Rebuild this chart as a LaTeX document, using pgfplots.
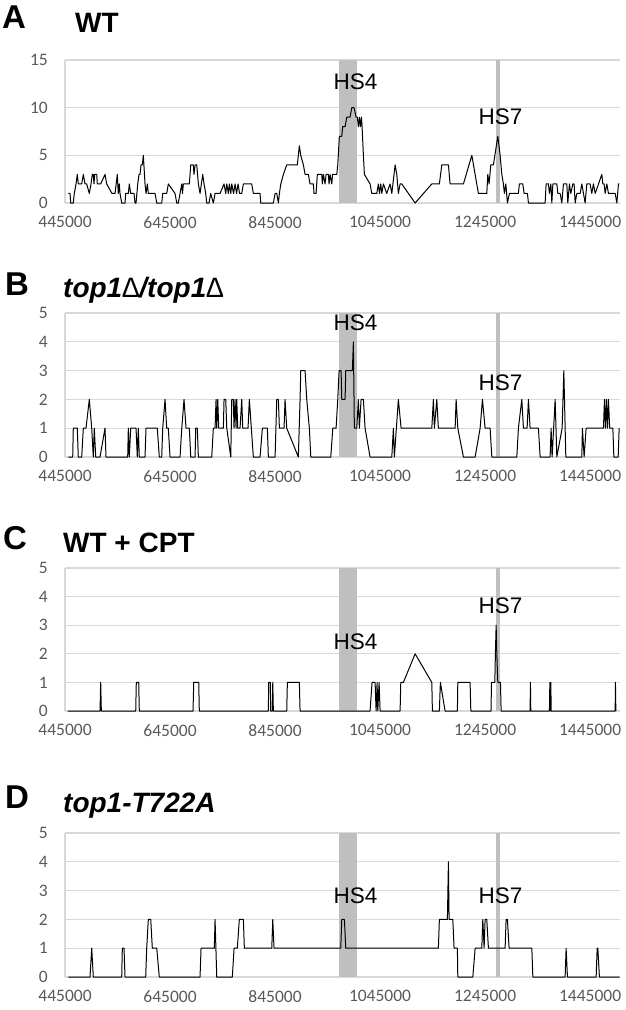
\documentclass[border=0pt]{standalone}
\usepackage{fontspec}
\setmainfont{Liberation Sans}
\newfontfamily\carlito{Carlito}
\usepackage{pgfplots}
\pgfplotsset{compat=1.18}

\definecolor{gridc}{RGB}{217,217,217}
\definecolor{tickc}{RGB}{89,89,89}
\definecolor{bandc}{RGB}{191,191,191}

\newcommand{\tl}[1]{{\carlito\fontsize{17.5}{20}\selectfont\color{tickc}#1}}

\pgfplotsset{
  panel/.style={
    scale only axis, width=555pt,
    xmin=445000, xmax=1502000, ymin=0,
    axis x line*=bottom, axis y line*=left,
    axis line style={draw=gridc, line width=1.3pt, -},
    ymajorgrids, grid style={draw=gridc, line width=1.3pt},
    major tick length=0pt, tick style={draw=none},
    scaled x ticks=false, scaled y ticks=false,
    xtick={445000,645000,845000,1045000,1245000,1445000},
    xticklabels={\tl{445000},\tl{645000},\tl{845000},\tl{1045000},\tl{1245000},\tl{1445000}},
    tick label style={inner sep=0pt},
    yticklabel style={anchor=east, xshift=-17pt},
    xticklabel style={anchor=north, yshift=-13pt},
  },
  dataline/.style={black, line width=1pt, line join=round, mark=none},
}
\tikzset{hs/.style={font=\fontsize{22.5}{24}\selectfont, inner sep=0pt}}

\newcommand{\ttl}{\fontsize{28}{31}\selectfont\bfseries}
\newcommand{\lett}{\fontsize{33}{35}\selectfont\bfseries}

\begin{document}
\begin{tikzpicture}[x=1pt,y=1pt]
\path[use as bounding box] (0,0) rectangle (625,-1010);

% titles
\node[anchor=base west, inner sep=0pt, font=\lett] at (2,-28) {A};
\node[anchor=base west, inner sep=0pt, font=\ttl] at (75,-32) {WT};
\node[anchor=base west, inner sep=0pt, font=\lett] at (5,-295) {B};
\node[anchor=base west, inner sep=0pt, font=\ttl] at (63,-297) {\itshape top1{\mdseries ∆}/top1{\mdseries ∆}};
\node[anchor=base west, inner sep=0pt, font=\lett] at (3,-549) {C};
\node[anchor=base west, inner sep=0pt, font=\ttl] at (63,-552) {WT + CPT};
\node[anchor=base west, inner sep=0pt, font=\lett] at (5,-808) {D};
\node[anchor=base west, inner sep=0pt, font=\ttl] at (63,-812) {\itshape top1-T722A};

% ---------------- A ----------------
\begin{axis}[panel, at={(65pt,-203pt)}, anchor=south west, height=143pt,
  ymax=15, ytick={0,5,10,15}, yticklabels={\tl{0},\tl{5},\tl{10},\tl{15}}]
\fill[bandc] (axis cs:967000,0) rectangle (axis cs:1001300,15);
\fill[bandc] (axis cs:1266000,0) rectangle (axis cs:1273700,15);
\addplot[dataline] coordinates {
(451300,1)(454500,1)(455900,0)(460800,0)(462700,1)(466000,2)(468400,3)(470300,2)(476800,2)(479900,3)(483100,2)(486300,2)(491300,1)(494500,2)(497000,3)(498900,3)(500200,2)(501600,3)(505400,3)(506500,2)(513000,2)(521200,3)(524400,2)(534500,1)(540300,1)(544600,3)(546500,1)(548400,2)(549800,1)(553000,0)(559300,0)(560600,1)(565600,1)(567500,2)(570100,1)(576400,1)(578400,0)(580300,0)(583500,2)(586000,3)(587900,3)(589800,4)(592300,4)(594200,5)(597400,2)(599300,1)(601800,2)(603700,1)(616500,1)(619700,0)(629200,0)(631100,1)(638700,1)(641800,2)(654600,1)(657800,0)(660800,0)(664100,1)(667400,2)(668800,1)(670400,2)(681800,2)(684500,4)(689400,4)(690700,3)(692700,4)(695900,4)(699000,2)(702200,1)(707300,3)(709800,2)(713000,1)(714900,0)(719300,0)(722500,1)(727500,0)(730800,1)(740300,1)(747900,2)(751100,1)(753100,2)(756100,1)(758000,2)(760700,1)(762600,2)(766000,1)(768900,2)(771700,1)(774600,2)(777400,1)(781600,1)(784700,2)(800600,2)(803700,1)(816500,1)(817800,0)(841800,0)(845100,1)(848300,1)(851400,0)(853300,1)(856000,2)(860900,3)(867300,4)(887500,4)(891300,6)(894000,5)(899000,4)(902200,3)(908500,3)(911700,2)(918000,2)(919300,1)(923200,1)(925600,3)(934000,3)(935200,2)(937100,3)(940300,2)(942200,3)(946600,3)(947900,2)(949800,3)(953100,2)(954600,3)(962600,3)(964500,4)(967500,7)(972000,7)(973900,8)(978400,8)(981600,9)(987900,9)(991200,10)(995500,10)(999400,9)(1001800,9)(1003800,8)(1005700,9)(1007600,8)(1009500,9)(1010800,8)(1013300,5)(1015200,3)(1026000,2)(1029300,1)(1038800,1)(1041800,2)(1043800,1)(1046400,2)(1048300,1)(1051400,2)(1057800,1)(1064100,2)(1067400,1)(1073700,4)(1076900,3)(1079900,1)(1083200,2)(1086400,2)(1111800,0)(1143600,2)(1158000,2)(1162600,4)(1175200,4)(1178400,2)(1203800,2)(1219800,5)(1232300,1)(1248300,1)(1250200,3)(1252700,2)(1255900,4)(1260900,4)(1269300,7)(1273700,5)(1276900,3)(1279900,2)(1281800,1)(1284500,2)(1287600,0)(1291400,1)(1308500,1)(1310400,2)(1316900,2)(1319400,1)(1325700,1)(1327600,0)(1359400,0)(1361300,2)(1365700,2)(1367600,1)(1370300,2)(1372200,0)(1374100,2)(1381700,2)(1383600,1)(1388000,1)(1391200,0)(1394300,2)(1400700,2)(1402600,0)(1405700,2)(1408300,1)(1412200,2)(1414600,2)(1416600,0)(1419800,1)(1426100,1)(1429300,2)(1432400,1)(1435600,0)(1438800,2)(1445100,2)(1448300,1)(1451400,2)(1454700,1)(1467400,3)(1469300,2)(1471800,2)(1473700,1)(1476900,2)(1480000,1)(1492800,1)(1496000,0)(1499100,2)(1501000,2)
};
\node[hs] at (axis cs:998400,12.69) {HS4};
\node[hs] at (axis cs:1274600,9.02) {HS7};
\end{axis}

% ---------------- B ----------------
\begin{axis}[panel, at={(65pt,-457pt)}, anchor=south west, height=144pt,
  ymax=5, ytick={0,1,2,3,4,5}, yticklabels={\tl{0},\tl{1},\tl{2},\tl{3},\tl{4},\tl{5}}]
\fill[bandc] (axis cs:967000,0) rectangle (axis cs:1001300,5);
\fill[bandc] (axis cs:1266000,0) rectangle (axis cs:1273700,5);
\addplot[dataline] coordinates {
(451300,0)(459700,0)(460800,1)(468400,1)(470300,0)(476800,0)(479900,1)(485000,1)(491300,2)(495900,1)(498900,0)(500800,1)(503500,0)(511700,0)(521200,1)(523100,0)(564400,0)(565600,1)(567500,0)(570100,1)(580300,1)(582700,0)(584600,1)(586500,0)(597400,0)(599300,1)(620800,1)(624600,0)(629200,0)(631100,1)(635500,2)(638700,1)(641800,1)(645000,0)(664100,0)(667400,1)(671700,2)(675500,1)(681800,1)(684500,0)(692700,0)(694000,1)(697000,1)(699000,0)(724500,0)(727500,1)(730800,1)(732700,2)(734000,1)(735900,2)(737800,1)(746600,1)(747900,2)(751100,2)(753100,1)(760700,0)(762600,2)(765600,2)(766900,1)(768900,2)(770800,1)(772100,2)(774000,1)(778400,1)(781600,2)(783500,1)(793600,1)(796100,2)(799900,1)(803700,0)(816500,0)(820900,1)(830400,1)(832300,0)(845100,0)(848300,2)(851400,2)(853300,1)(862200,1)(864100,2)(867300,1)(889400,0)(892700,2)(894000,3)(902200,3)(905400,2)(910400,1)(913100,0)(951200,0)(955000,1)(961300,1)(964500,2)(967000,3)(970800,3)(972100,2)(978400,2)(979700,3)(992300,3)(994200,4)(996100,1)(1000700,1)(1003700,2)(1005600,1)(1008900,2)(1013300,2)(1016500,1)(1026000,0)(1067400,0)(1070400,1)(1072300,0)(1079900,2)(1085100,1)(1143600,1)(1146600,2)(1148500,1)(1153100,2)(1156100,1)(1188000,1)(1189900,2)(1193100,1)(1203800,0)(1226100,0)(1235600,1)(1240000,2)(1245100,1)(1254600,1)(1257900,0)(1305500,0)(1308500,1)(1315000,2)(1318100,1)(1325100,1)(1327600,2)(1330800,1)(1346600,1)(1349900,0)(1368900,0)(1370800,1)(1372700,0)(1378500,2)(1381700,0)(1391800,1)(1395000,3)(1398800,0)(1429300,0)(1430400,1)(1433700,0)(1437500,1)(1470500,1)(1472400,2)(1474300,1)(1476200,2)(1478100,1)(1480000,2)(1482300,1)(1488400,1)(1490300,0)(1498500,0)(1500400,1)
};
\node[hs] at (axis cs:998400,4.65) {HS4};
\node[hs] at (axis cs:1274600,2.57) {HS7};
\end{axis}

% ---------------- C ----------------
\begin{axis}[panel, at={(65pt,-711pt)}, anchor=south west, height=143pt,
  ymax=5, ytick={0,1,2,3,4,5}, yticklabels={\tl{0},\tl{1},\tl{2},\tl{3},\tl{4},\tl{5}}]
\fill[bandc] (axis cs:967000,0) rectangle (axis cs:1001300,5);
\fill[bandc] (axis cs:1266000,0) rectangle (axis cs:1273700,5);
\addplot[dataline] coordinates {
(450700,0)(511700,0)(513000,1)(514200,0)(579700,0)(580800,1)(585400,1)(586500,0)(688800,0)(690200,1)(699700,1)(700800,0)(832300,0)(833000,1)(836100,1)(836800,0)(839900,0)(840700,1)(841800,0)(867300,0)(868500,1)(891300,1)(892700,0)(1026000,0)(1029800,1)(1035600,1)(1037500,0)(1039400,1)(1040700,0)(1043200,1)(1045100,0)(1083200,0)(1084500,1)(1089500,1)(1111800,2)(1143600,1)(1144700,0)(1158000,0)(1159900,1)(1168900,0)(1192300,0)(1193100,1)(1216500,1)(1217900,0)(1256500,0)(1257100,1)(1263600,1)(1264700,2)(1266100,3)(1267400,2)(1269300,1)(1274300,1)(1275600,0)(1330800,0)(1331400,1)(1332100,0)(1367600,0)(1368400,1)(1369500,0)(1370300,1)(1370900,0)(1492800,0)(1493300,1)(1494100,0)
};
\node[hs] at (axis cs:998400,2.43) {HS4};
\node[hs] at (axis cs:1274600,3.69) {HS7};
\end{axis}

% ---------------- D ----------------
\begin{axis}[panel, at={(65pt,-977pt)}, anchor=south west, height=144pt,
  ymax=5, ytick={0,1,2,3,4,5}, yticklabels={\tl{0},\tl{1},\tl{2},\tl{3},\tl{4},\tl{5}}]
\fill[bandc] (axis cs:967000,0) rectangle (axis cs:1001300,5);
\fill[bandc] (axis cs:1266000,0) rectangle (axis cs:1273700,5);
\addplot[dataline] coordinates {
(451300,0)(492600,0)(495900,1)(498900,0)(553000,0)(554200,1)(557400,1)(559300,0)(598700,0)(600600,1)(603700,2)(608300,2)(611300,1)(619700,1)(624600,0)(702200,0)(704100,1)(729400,1)(730800,2)(734000,0)(763700,0)(767000,1)(773200,1)(777000,2)(784700,2)(786600,1)(838800,1)(840700,2)(843100,1)(970200,1)(972100,2)(977100,2)(979700,1)(1156100,1)(1158000,2)(1173300,2)(1175200,4)(1176500,2)(1183600,2)(1186000,1)(1192300,1)(1193100,0)(1221700,0)(1226100,1)(1238800,1)(1240700,2)(1243200,1)(1245100,2)(1248300,2)(1251400,1)(1283200,1)(1285100,2)(1287600,2)(1290800,1)(1334100,1)(1336000,0)(1397500,0)(1399400,1)(1401900,0)(1456600,0)(1458500,1)(1459800,1)(1462800,0)(1501500,0)
};
\node[hs] at (axis cs:998400,2.83) {HS4};
\node[hs] at (axis cs:1274600,2.83) {HS7};
\end{axis}
\end{tikzpicture}
\end{document}
